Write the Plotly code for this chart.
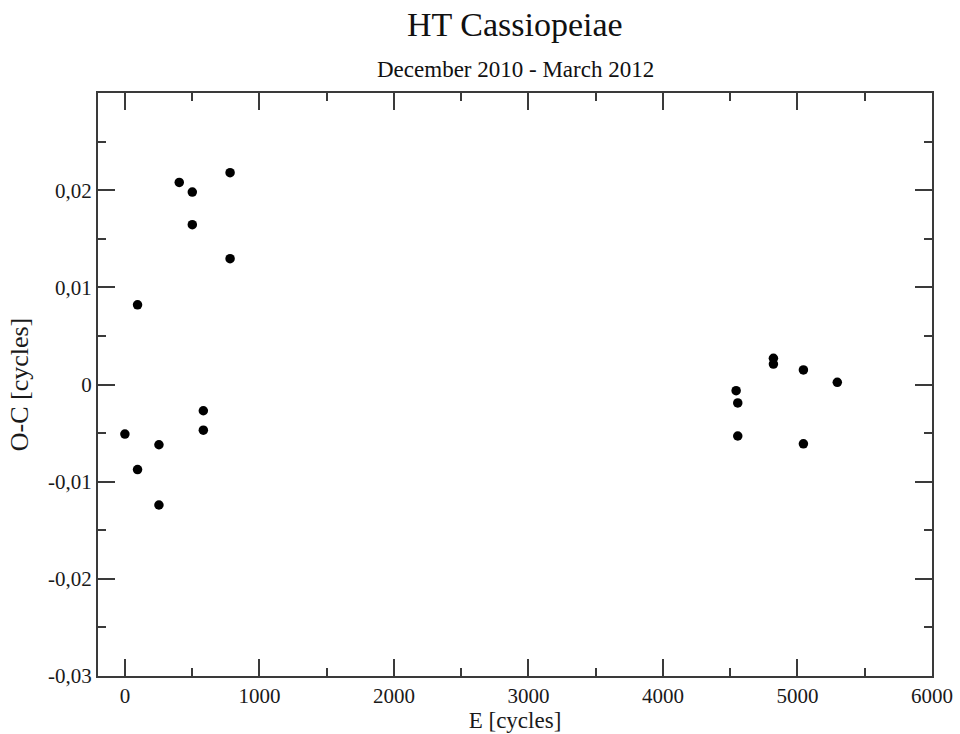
import plotly.graph_objects as go

# Data
E_cycles = [0, 94, 94, 253, 253, 404, 501, 501, 583, 583, 782, 782,
            4544, 4556, 4556, 4821, 4821, 5044, 5044, 5296]
OC_cycles = [-0.0051, 0.0082, -0.00875, -0.0062, -0.0124, 0.0208, 0.0198, 0.01645,
             -0.0027, -0.0047, 0.0218, 0.01295,
             -0.00064, -0.0019, -0.0053, 0.0027, 0.0021, 0.0015, -0.0061, 0.00022]

x_tickvals = [0, 1000, 2000, 3000, 4000, 5000, 6000]
x_ticktext = ["0", "1000", "2000", "3000", "4000", "5000", "6000"]
y_tickvals = [-0.03, -0.02, -0.01, 0, 0.01, 0.02]
y_ticktext = ["-0,03", "-0,02", "-0,01", "0", "0,01", "0,02"]

FONT = "Liberation Serif, Times New Roman, serif"
AX = "#3a3a3a"
TXT = "#1a1a1a"

fig = go.Figure()
fig.add_trace(go.Scatter(
    x=E_cycles, y=OC_cycles, mode="markers",
    marker=dict(color="black", size=9.5, symbol="circle"),
    showlegend=False,
))

axis_common = dict(
    showline=True, linecolor=AX, linewidth=2, mirror="allticks",
    ticks="inside", ticklen=17, tickwidth=1.5, tickcolor=AX,
    showgrid=False, zeroline=False, automargin=False,
    tickfont=dict(family=FONT, size=21, color=TXT),
)

fig.update_xaxes(
    range=[-200, 6000], tickvals=x_tickvals, ticktext=x_ticktext,
    minor=dict(dtick=500, tick0=0, ticks="inside", ticklen=8, tickwidth=1.5, tickcolor=AX),
    title=dict(text="E [cycles]", font=dict(family=FONT, size=23, color=TXT), standoff=2),
    **axis_common,
)
fig.update_yaxes(
    range=[-0.03, 0.03], tickvals=y_tickvals, ticktext=y_ticktext,
    minor=dict(dtick=0.005, tick0=0, ticks="inside", ticklen=8, tickwidth=1.5, tickcolor=AX),
    title=dict(text="O-C [cycles]", font=dict(family=FONT, size=26, color=TXT), standoff=12),
    **axis_common,
)

fig.update_layout(
    width=960, height=734,
    margin=dict(l=98, r=28, t=93, b=58, autoexpand=False),
    paper_bgcolor="white", plot_bgcolor="white",
    font=dict(family=FONT, color=TXT),
    annotations=[
        dict(text="HT Cassiopeiae", x=0.5, y=1, xref="paper", yref="paper",
             yshift=69, showarrow=False, font=dict(family=FONT, size=34, color="#111"),
             yanchor="middle"),
        dict(text="December 2010 - March 2012", x=0.5, y=1, xref="paper", yref="paper",
             yshift=24, showarrow=False, font=dict(family=FONT, size=23, color="#111"),
             yanchor="middle"),
    ],
)

fig.write_html("out.html")
